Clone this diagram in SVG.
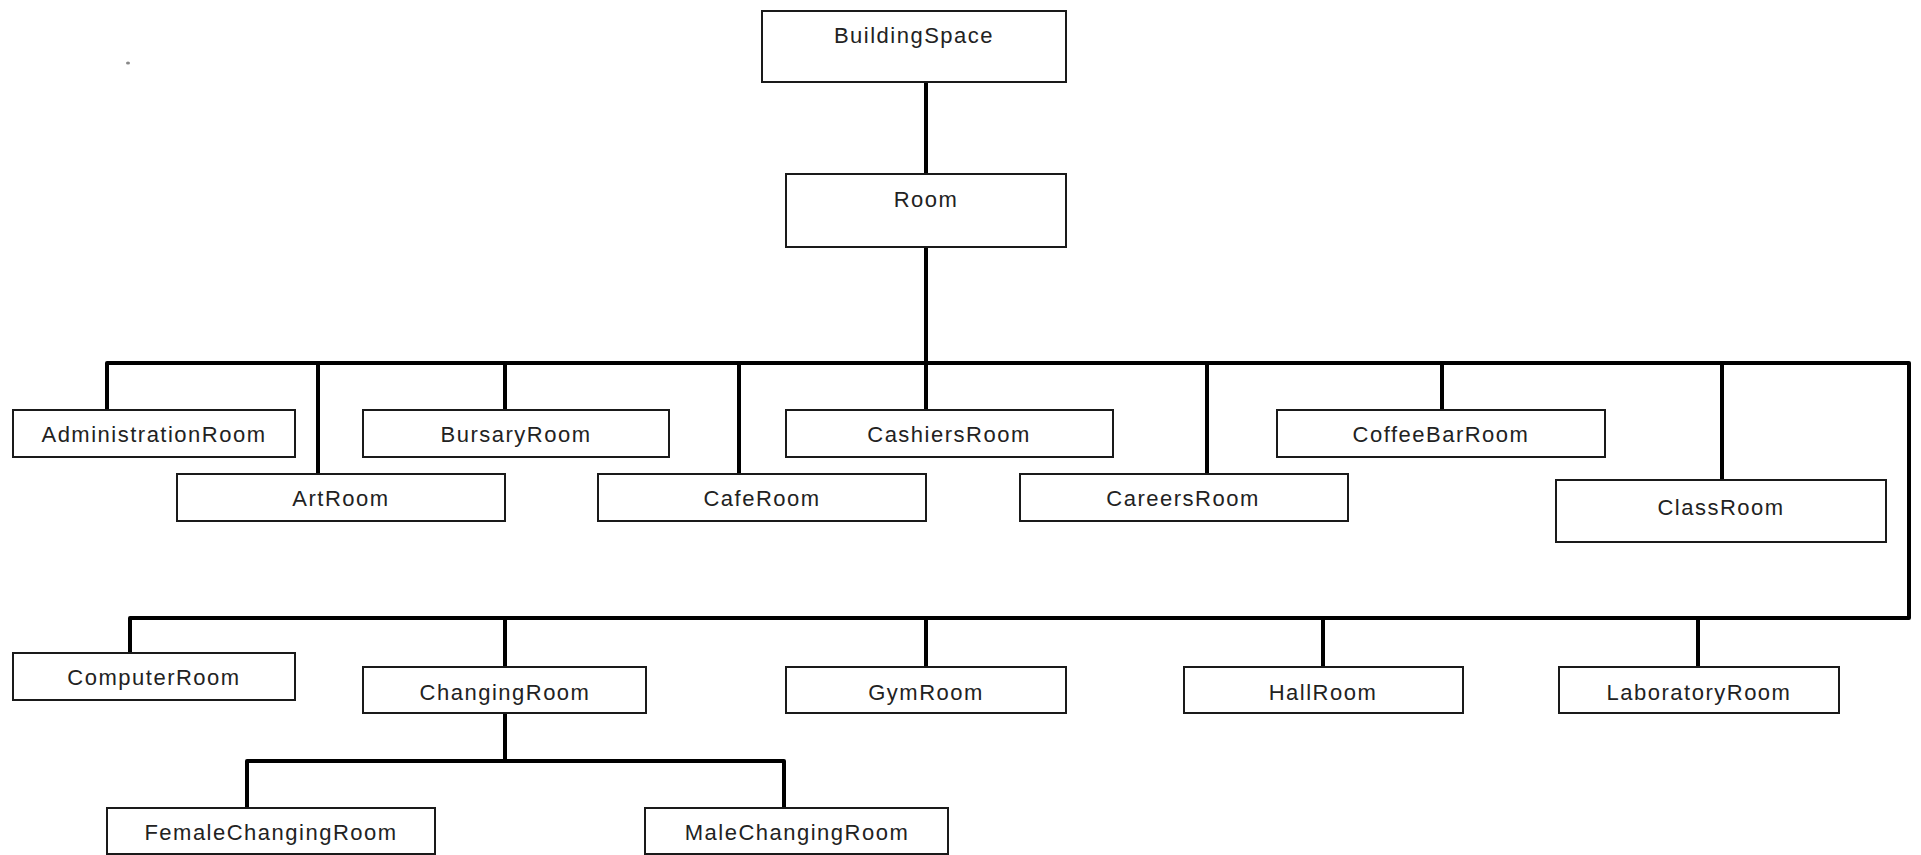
<svg xmlns="http://www.w3.org/2000/svg" width="1921" height="855" viewBox="0 0 1921 855">
<style>
.box{fill:#fff;stroke:#1a1a1a;stroke-width:2}
.lbl{font-family:"Liberation Sans",Arial,sans-serif;font-size:22px;letter-spacing:1.5px;fill:#222;text-anchor:middle}
.conn{fill:none;stroke:#000;stroke-width:4;stroke-linejoin:round;stroke-linecap:square}
</style>
<rect width="1921" height="855" fill="#fff"/>
<ellipse cx="128" cy="63" rx="2" ry="1.5" fill="#888"/>
<g id="connectors" class="conn">
<path d="M926 82V174"/>
<path d="M926 247V410"/>
<path d="M107 410V363H1909V618H130V653"/>
<path d="M318 363V474"/>
<path d="M505 363V410"/>
<path d="M739 363V474"/>
<path d="M1207 363V474"/>
<path d="M1442 363V410"/>
<path d="M1722 363V480"/>
<path d="M505 618V667"/>
<path d="M926 618V667"/>
<path d="M1323 618V667"/>
<path d="M1698 618V667"/>
<path d="M505 713V761"/>
<path d="M247 808V761H784V808"/>
</g>
<g id="BuildingSpace"><rect class="box" x="762" y="11" width="304" height="71"/><text class="lbl" x="914" y="43">BuildingSpace</text></g>
<g id="Room"><rect class="box" x="786" y="174" width="280" height="73"/><text class="lbl" x="926" y="207">Room</text></g>
<g id="AdministrationRoom"><rect class="box" x="13" y="410" width="282" height="47"/><text class="lbl" x="154" y="442">AdministrationRoom</text></g>
<g id="ArtRoom"><rect class="box" x="177" y="474" width="328" height="47"/><text class="lbl" x="341" y="506">ArtRoom</text></g>
<g id="BursaryRoom"><rect class="box" x="363" y="410" width="306" height="47"/><text class="lbl" x="516" y="442">BursaryRoom</text></g>
<g id="CafeRoom"><rect class="box" x="598" y="474" width="328" height="47"/><text class="lbl" x="762" y="506">CafeRoom</text></g>
<g id="CashiersRoom"><rect class="box" x="786" y="410" width="327" height="47"/><text class="lbl" x="949" y="442">CashiersRoom</text></g>
<g id="CareersRoom"><rect class="box" x="1020" y="474" width="328" height="47"/><text class="lbl" x="1183" y="506">CareersRoom</text></g>
<g id="CoffeeBarRoom"><rect class="box" x="1277" y="410" width="328" height="47"/><text class="lbl" x="1441" y="442">CoffeeBarRoom</text></g>
<g id="ClassRoom"><rect class="box" x="1556" y="480" width="330" height="62"/><text class="lbl" x="1721" y="515">ClassRoom</text></g>
<g id="ComputerRoom"><rect class="box" x="13" y="653" width="282" height="47"/><text class="lbl" x="154" y="685">ComputerRoom</text></g>
<g id="ChangingRoom"><rect class="box" x="363" y="667" width="283" height="46"/><text class="lbl" x="505" y="700">ChangingRoom</text></g>
<g id="GymRoom"><rect class="box" x="786" y="667" width="280" height="46"/><text class="lbl" x="926" y="700">GymRoom</text></g>
<g id="HallRoom"><rect class="box" x="1184" y="667" width="279" height="46"/><text class="lbl" x="1323" y="700">HallRoom</text></g>
<g id="LaboratoryRoom"><rect class="box" x="1559" y="667" width="280" height="46"/><text class="lbl" x="1699" y="700">LaboratoryRoom</text></g>
<g id="FemaleChangingRoom"><rect class="box" x="107" y="808" width="328" height="46"/><text class="lbl" x="271" y="840">FemaleChangingRoom</text></g>
<g id="MaleChangingRoom"><rect class="box" x="645" y="808" width="303" height="46"/><text class="lbl" x="797" y="840">MaleChangingRoom</text></g>
</svg>
